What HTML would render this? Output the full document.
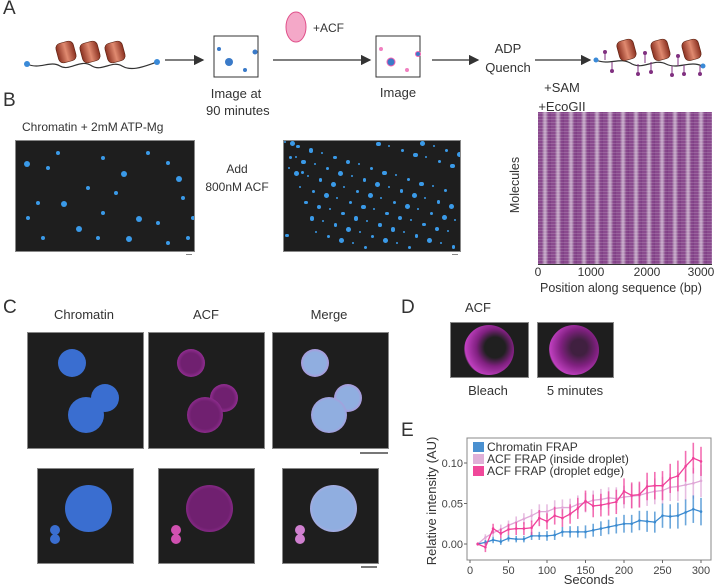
<!DOCTYPE html>
<html><head><meta charset="utf-8"><style>
body{margin:0;background:#fff;width:720px;height:586px;overflow:hidden;font-family:"Liberation Sans",sans-serif;color:#333;position:relative}
.a{position:absolute}
.lbl{position:absolute;font-size:13px;text-align:center;white-space:nowrap}
.pl{position:absolute;font-size:19px;color:#333}
.mic{position:absolute;background:#1e1e1e;border:1px solid #888;overflow:hidden}
.dot{position:absolute;border-radius:50%}
</style></head><body>
<div class="pl" style="left:3px;top:-2px">A</div>
<div class="pl" style="left:3px;top:90px">B</div>
<div class="pl" style="left:3px;top:297px">C</div>
<div class="pl" style="left:401px;top:297px">D</div>
<div class="pl" style="left:401px;top:420px">E</div>

<svg class="a" style="left:0;top:0" width="720" height="130">
<defs><linearGradient id="nuc" x1="0" x2="1"><stop offset="0" stop-color="#8a3020"/><stop offset=".5" stop-color="#e08a70"/><stop offset="1" stop-color="#8a3020"/></linearGradient>
<marker id="ar" markerWidth="8" markerHeight="8" refX="7" refY="4" orient="auto"><path d="M0,0L8,4L0,8z" fill="#333"/></marker></defs>
<g>
<path d="M27,64 C40,70 50,60 60,66 C70,72 80,58 92,66 C102,72 112,60 122,66 C132,72 145,66 157,62" fill="none" stroke="#333" stroke-width="1.2"/>
<circle cx="27" cy="64" r="3" fill="#3a8ad8"/><circle cx="157" cy="62" r="3" fill="#3a8ad8"/>
<rect x="57" y="42" width="18" height="20" rx="5" fill="url(#nuc)" stroke="#5a2010" stroke-width=".6" transform="rotate(-15 66 52)"/>
<rect x="81" y="42" width="18" height="20" rx="5" fill="url(#nuc)" stroke="#5a2010" stroke-width=".6" transform="rotate(-15 90 52)"/>
<rect x="106" y="42" width="18" height="20" rx="5" fill="url(#nuc)" stroke="#5a2010" stroke-width=".6" transform="rotate(-15 115 52)"/></g>
<line x1="165" y1="60" x2="203" y2="60" stroke="#333" stroke-width="1.3" marker-end="url(#ar)"/>
<rect x="214" y="36" width="44" height="41" fill="#fff" stroke="#333"/>
<circle cx="219" cy="49" r="2" fill="#3a7ac8"/><circle cx="229" cy="62" r="4" fill="#3a7ac8"/><circle cx="245" cy="70" r="2" fill="#3a7ac8"/><circle cx="255" cy="52" r="2.5" fill="#3a7ac8"/>
<ellipse cx="296" cy="27" rx="10" ry="15" fill="#f4a8c8" stroke="#e0508a"/>
<text x="313" y="32" font-size="12" fill="#333">+ACF</text>
<line x1="273" y1="60" x2="370" y2="60" stroke="#333" stroke-width="1.3" marker-end="url(#ar)"/>
<rect x="376" y="36" width="44" height="41" fill="#fff" stroke="#333"/>
<circle cx="381" cy="49" r="2" fill="#f080c0"/><circle cx="391" cy="62" r="4" fill="#3a7ac8" stroke="#f060b0"/><circle cx="407" cy="70" r="2" fill="#f080c0"/><circle cx="418" cy="54" r="2.5" fill="#3a7ac8" stroke="#f060b0"/>
<line x1="432" y1="60" x2="478" y2="60" stroke="#333" stroke-width="1.3" marker-end="url(#ar)"/>
<line x1="535" y1="60" x2="590" y2="60" stroke="#333" stroke-width="1.3" marker-end="url(#ar)"/>
<g>
<path d="M596,60 C610,66 620,56 632,64 C644,70 654,58 666,64 C678,70 690,60 702,66" fill="none" stroke="#333" stroke-width="1.2"/>
<g stroke="#803080" fill="#803080">
<line x1="605" y1="60" x2="605" y2="52"/><line x1="612" y1="62" x2="612" y2="71"/><line x1="638" y1="64" x2="638" y2="74"/><line x1="645" y1="63" x2="645" y2="53"/><line x1="651" y1="62" x2="651" y2="72"/><line x1="672" y1="66" x2="672" y2="75"/><line x1="678" y1="66" x2="678" y2="56"/><line x1="684" y1="65" x2="684" y2="74"/><line x1="700" y1="66" x2="700" y2="74"/>
<circle cx="605" cy="52" r="1.5"/><circle cx="612" cy="71" r="1.5"/><circle cx="638" cy="74" r="1.5"/><circle cx="645" cy="53" r="1.5"/><circle cx="651" cy="72" r="1.5"/><circle cx="672" cy="75" r="1.5"/><circle cx="678" cy="56" r="1.5"/><circle cx="684" cy="74" r="1.5"/><circle cx="700" cy="74" r="1.5"/></g>
<circle cx="596" cy="60" r="2.5" fill="#3a8ad8"/><circle cx="703" cy="66" r="2.5" fill="#3a8ad8"/>
<rect x="618" y="40" width="17" height="20" rx="5" fill="url(#nuc)" stroke="#5a2010" stroke-width=".6" transform="rotate(-15 626 50)"/>
<rect x="652" y="40" width="17" height="20" rx="5" fill="url(#nuc)" stroke="#5a2010" stroke-width=".6" transform="rotate(-15 660 50)"/>
<rect x="683" y="40" width="17" height="20" rx="5" fill="url(#nuc)" stroke="#5a2010" stroke-width=".6" transform="rotate(-15 691 50)"/></g>
<line x1="202" y1="191" x2="272" y2="191" stroke="#333" stroke-width="1.2" marker-end="url(#ar)"/>
<line x1="467" y1="191" x2="508" y2="191" stroke="#333" stroke-width="1.2" marker-end="url(#ar)"/>
</svg>
<div class="lbl" style="left:206px;top:85px;width:60px;line-height:17px">Image at<br>90 minutes</div>
<div class="lbl" style="left:378px;top:85px;width:40px">Image</div>
<div class="lbl" style="left:478px;top:39px;width:60px;line-height:19px">ADP<br>Quench</div>
<div class="lbl" style="left:532px;top:78px;width:60px;line-height:19px">+SAM<br>+EcoGII</div>

<div class="lbl" style="left:22px;top:120px;font-size:12px;text-align:left">Chromatin + 2mM ATP-Mg</div>
<div class="mic" id="b1" style="left:15px;top:140px;width:178px;height:110px"></div>
<div class="mic" id="b2" style="left:283px;top:140px;width:176px;height:110px"></div>
<div class="a" style="left:186px;top:254px;width:6px;height:1px;background:#888"></div>
<div class="a" style="left:452px;top:254px;width:6px;height:1px;background:#888"></div>
<div class="lbl" style="left:202px;top:160px;width:70px;line-height:18px;font-size:12px">Add<br>800nM ACF</div>

<div class="a" style="left:538px;top:112px;width:174px;height:152px;background:
repeating-linear-gradient(0deg,rgba(255,255,255,.14) 0 1px,transparent 1px 3px),
repeating-linear-gradient(90deg,#8a4a8e 0 4px,#a47aa8 5px,#c8aaca 7px,#a47aa8 9px,#8a4a8e 10px,#7e3e84 13px);"></div>
<div class="a" style="left:538px;top:264px;width:174px;height:1px;background:#333"></div>
<div class="lbl" style="left:520px;top:265px;width:36px;font-size:12px">0</div>
<div class="lbl" style="left:573px;top:265px;width:36px;font-size:12px">1000</div>
<div class="lbl" style="left:629px;top:265px;width:36px;font-size:12px">2000</div>
<div class="lbl" style="left:683px;top:265px;width:36px;font-size:12px">3000</div>
<div class="lbl" style="left:540px;top:281px;font-size:12.5px">Position along sequence (bp)</div>
<div class="lbl" style="left:487px;top:178px;font-size:12.5px;transform:rotate(-90deg)">Molecules</div>

<div class="lbl" style="left:44px;top:307px;width:80px">Chromatin</div>
<div class="lbl" style="left:176px;top:307px;width:60px">ACF</div>
<div class="lbl" style="left:299px;top:307px;width:60px">Merge</div>
<div class="mic" style="left:27px;top:332px;width:115px;height:115px">
<div class="dot" style="left:30px;top:16px;width:28px;height:28px;background:#3a6ed0"></div><div class="dot" style="left:63px;top:51px;width:28px;height:28px;background:#3a6ed0"></div><div class="dot" style="left:40px;top:64px;width:36px;height:36px;background:#3a6ed0"></div></div>
<div class="mic" style="left:148px;top:332px;width:115px;height:115px">
<div class="dot" style="left:28px;top:16px;width:28px;height:28px;background:radial-gradient(#702070 50%,#c040c0)"></div><div class="dot" style="left:61px;top:51px;width:28px;height:28px;background:radial-gradient(#702070 50%,#c040c0)"></div><div class="dot" style="left:38px;top:64px;width:36px;height:36px;background:radial-gradient(#702070 55%,#c040c0)"></div></div>
<div class="mic" style="left:272px;top:332px;width:115px;height:115px">
<div class="dot" style="left:28px;top:16px;width:28px;height:28px;background:radial-gradient(#90aee0 55%,#e070d0)"></div><div class="dot" style="left:61px;top:51px;width:28px;height:28px;background:radial-gradient(#90aee0 55%,#e070d0)"></div><div class="dot" style="left:38px;top:64px;width:36px;height:36px;background:radial-gradient(#90aee0 60%,#e070d0)"></div></div>
<div class="a" style="left:360px;top:452px;width:28px;height:2px;background:#777"></div>
<div class="mic" style="left:37px;top:468px;width:95px;height:94px">
<div class="dot" style="left:27px;top:16px;width:47px;height:47px;background:#3a6ed0"></div><div class="dot" style="left:12px;top:56px;width:10px;height:10px;background:#3a6ed0"></div><div class="dot" style="left:12px;top:65px;width:10px;height:10px;background:#3a6ed0"></div></div>
<div class="mic" style="left:158px;top:468px;width:95px;height:94px">
<div class="dot" style="left:27px;top:16px;width:47px;height:47px;background:radial-gradient(#702070 60%,#c040c0)"></div><div class="dot" style="left:12px;top:56px;width:10px;height:10px;background:#d050b0"></div><div class="dot" style="left:12px;top:65px;width:10px;height:10px;background:#d050b0"></div></div>
<div class="mic" style="left:282px;top:468px;width:95px;height:94px">
<div class="dot" style="left:27px;top:16px;width:47px;height:47px;background:radial-gradient(#90aee0 62%,#f0a0e0)"></div><div class="dot" style="left:12px;top:56px;width:10px;height:10px;background:#d080d0"></div><div class="dot" style="left:12px;top:65px;width:10px;height:10px;background:#d080d0"></div></div>
<div class="a" style="left:361px;top:566px;width:16px;height:2px;background:#777"></div>

<div class="lbl" style="left:458px;top:300px;width:40px">ACF</div>
<div class="mic" style="left:450px;top:322px;width:77px;height:54px"><div class="dot" style="left:13px;top:2px;width:50px;height:50px;background:radial-gradient(circle at 62% 45%,#202020 25%,#802080 45%,#c040c0 72%,#1e1e1e 76%)"></div></div>
<div class="mic" style="left:537px;top:322px;width:75px;height:54px"><div class="dot" style="left:11px;top:2px;width:50px;height:50px;background:radial-gradient(circle at 60% 45%,#402040 20%,#802080 45%,#c040c0 72%,#1e1e1e 76%)"></div></div>
<div class="a" style="left:580px;top:377px;width:32px;height:1px;background:#777"></div>
<div class="lbl" style="left:468px;top:383px;width:40px">Bleach</div>
<div class="lbl" style="left:545px;top:383px;width:60px">5 minutes</div>

<svg class="a" id="frap" style="left:420px;top:425px" width="300" height="161"></svg>
<script>
const times=[10,20,30,40,50,60,70,80,90,100,110,120,130,140,150,160,170,180,190,200,210,220,230,240,250,260,270,280,290,300];
const chromatin=[0,.002,.005,.003,.007,.006,.006,.01,.01,.01,.011,.015,.015,.015,.015,.017,.019,.021,.023,.025,.025,.029,.028,.027,.035,.034,.035,.039,.043,.040];
const chromatinErr=[.001,.003,.004,.004,.004,.004,.004,.005,.005,.006,.006,.006,.007,.007,.008,.008,.009,.009,.01,.011,.011,.012,.013,.013,.015,.015,.016,.016,.017,.017];
const acfInside=[0,.008,.014,.018,.023,.027,.031,.035,.040,.040,.044,.045,.045,.049,.051,.054,.055,.057,.056,.058,.059,.060,.063,.065,.066,.070,.071,.073,.075,.078];
const acfInsideErr=[.001,.004,.005,.006,.006,.007,.007,.008,.009,.009,.010,.010,.011,.011,.012,.012,.013,.013,.014,.014,.015,.015,.016,.016,.017,.017,.018,.019,.019,.02];
const acfEdge=[0,-.004,.019,.013,.018,.019,.019,.020,.032,.028,.035,.032,.037,.044,.053,.047,.048,.050,.052,.065,.060,.061,.071,.072,.072,.081,.084,.096,.106,.102];
const acfEdgeErr=[.002,.006,.006,.006,.007,.008,.008,.009,.01,.01,.011,.011,.012,.013,.013,.014,.014,.015,.015,.016,.016,.016,.017,.017,.018,.018,.019,.019,.019,.018];
const xTicks=[0,50,100,150,200,250,300];
const yTicks=[0,0.05,0.10];
const yTickLabels=["0.00","0.05","0.10"];
const NS="http://www.w3.org/2000/svg";
const svg=document.getElementById('frap');
const X=v=>50+(v/300)*231;
const Y=v=>119-(v/0.05)*40.5;
function mk(t,a,p){const e=document.createElementNS(NS,t);for(const k in a)e.setAttribute(k,a[k]);(p||svg).appendChild(e);return e;}
const box=mk('rect',{x:47,y:13,width:244,height:122,fill:'none',stroke:'#888'});


xTicks.forEach(t=>{mk('line',{x1:X(t),x2:X(t),y1:135,y2:138,stroke:'#666'});
const tx=mk('text',{x:X(t),y:149,'font-size':11,'text-anchor':'middle',fill:'#444'});tx.textContent=t;

});
yTicks.forEach((t,i)=>{mk('line',{x1:44,x2:47,y1:Y(t),y2:Y(t),stroke:'#666'});
const tx=mk('text',{x:43,y:Y(t)+4,'font-size':11,'text-anchor':'end',fill:'#444'});tx.textContent=yTickLabels[i];

});
const xt=mk('text',{x:169,y:159,'font-size':13,'text-anchor':'middle',fill:'#333'});xt.textContent='Seconds';


const yt=mk('text',{x:0,y:0,'font-size':13,'text-anchor':'middle',fill:'#333',transform:'translate(16,76) rotate(-90)'});yt.textContent='Relative intensity (AU)';


function series(vals,errs,col,name){
 const g=mk('g',{});
 
 
 vals.forEach((v,i)=>{mk('line',{x1:X(times[i]),x2:X(times[i]),y1:Y(v-errs[i]),y2:Y(v+errs[i]),stroke:col,'stroke-width':1.6,opacity:.75},g);});
 mk('polyline',{points:vals.map((v,i)=>X(times[i])+','+Y(v)).join(' '),fill:'none',stroke:col,'stroke-width':1.3},g);
 vals.forEach((v,i)=>{mk('circle',{cx:X(times[i]),cy:Y(v),r:1.3,fill:col},g);});
}
series(acfInside,acfInsideErr,'#e0a8d8','series-acf-inside');
series(chromatin,chromatinErr,'#3a8ad0','series-chromatin');
series(acfEdge,acfEdgeErr,'#f0409a','series-acf-edge');
const leg=[['#4a90d0','Chromatin FRAP'],['#e0b0d8','ACF FRAP (inside droplet)'],['#f0489a','ACF FRAP (droplet edge)']];
leg.forEach((l,i)=>{const g=mk('g',{});


mk('rect',{x:53,y:17+i*12,width:11,height:10,fill:l[0]},g);
const t=mk('text',{x:67,y:26+i*12,'font-size':12,fill:'#333'},g);t.textContent=l[1];});

const bDots=[[8,20,3],[30,25,2],[40,10,2],[85,15,2],[105,30,3],[130,10,2],[150,20,2],[160,35,3],[20,60,2],[45,60,3],[70,45,2],[98,50,2],[120,75,3],[60,85,3],[80,95,2],[140,80,2],[165,55,2],[25,95,2],[180,15,2],[110,95,3],[150,100,2],[85,70,2],[40,115,2],[170,95,2],[10,75,2],[175,75,2]];
const b2=[];for(let i=0;i<14;i++)for(let j=0;j<7;j++){b2.push([(i*12.3+j*5.1)%174,(j*15+ i*3.7)%108,1+((i+j)%3)*0.7]);}
function drawDots(id,arr){const el=document.getElementById(id);arr.forEach(d=>{const s=document.createElement('div');s.className='dot';s.style.cssText=`left:${d[0]}px;top:${d[1]}px;width:${d[2]*2}px;height:${d[2]*2}px;background:#3a9ae8`;el.appendChild(s);});}
drawDots('b1',bDots);drawDots('b2',b2);
</script>
</body></html>
